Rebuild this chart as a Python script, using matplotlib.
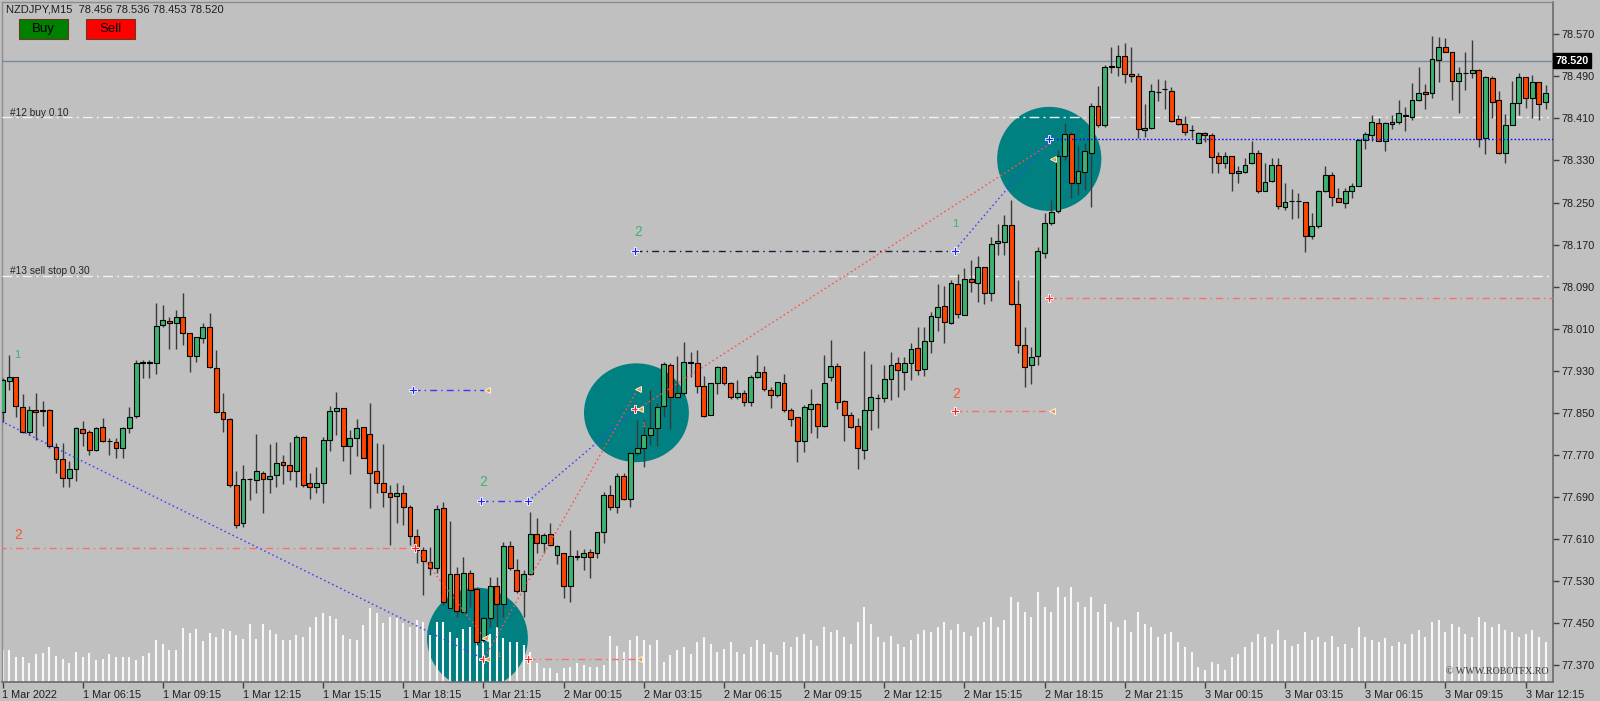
import matplotlib
matplotlib.use("Agg")
import matplotlib.pyplot as plt
from matplotlib.patches import Ellipse, Rectangle
from matplotlib.transforms import blended_transform_factory
import numpy as np

# ---------------- data ----------------
opens = [77.851,77.910,77.918,77.861,77.813,77.855,77.855,77.855,77.785,77.762,77.726,77.743,77.819,77.813,77.779,77.823,77.796,77.794,77.783,77.821,
         77.844,77.945,77.945,77.945,78.017,78.024,78.021,78.032,78.002,77.958,77.992,78.013,77.935,77.852,77.838,77.713,77.640,77.724,77.722,77.735,
         77.724,77.732,77.756,77.751,77.739,77.804,77.716,77.709,77.716,77.798,77.853,77.859,77.787,77.802,77.823,77.810,77.739,77.716,77.697,77.692,
         77.697,77.671,77.616,77.589,77.566,77.555,77.669,77.478,77.543,77.471,77.545,77.515,77.418,77.460,77.520,77.486,77.596,77.551,77.511,77.543,
         77.619,77.602,77.619,77.579,77.583,77.520,77.575,77.575,77.585,77.583,77.623,77.694,77.671,77.730,77.686,77.773,77.783,77.808,77.821,77.863,
         77.941,77.880,77.888,77.947,77.945,77.901,77.846,77.907,77.937,77.907,77.880,77.888,77.870,77.918,77.928,77.893,77.884,77.907,77.855,77.842,
         77.796,77.857,77.867,77.825,77.918,77.939,77.872,77.846,77.825,77.779,77.855,77.878,77.878,77.914,77.945,77.928,77.945,77.973,77.933,77.987,
         78.032,78.053,78.021,78.095,78.036,78.104,78.097,78.127,78.078,78.173,78.175,78.207,78.057,77.979,77.941,77.958,78.154,78.211,78.234,78.338,
         78.380,78.287,78.308,78.344,78.434,78.398,78.508,78.508,78.529,78.494,78.491,78.388,78.392,78.460,78.466,78.462,78.409,78.399,78.388,78.363,
         78.382,78.378,78.338,78.325,78.338,78.306,78.308,78.325,78.344,78.272,78.291,78.321,78.241,78.253,78.253,78.251,78.186,78.205,78.272,78.302,
         78.259,78.249,78.272,78.281,78.369,78.378,78.401,78.367,78.399,78.403,78.415,78.413,78.445,78.460,78.458,78.521,78.546,78.536,78.481,78.496,
         78.496,78.502,78.373,78.487,78.445,78.344,78.398,78.439,78.489,78.449,78.479,78.441]
highs = [77.916,77.960,77.918,77.886,77.863,77.888,77.872,77.857,77.793,77.793,77.758,77.823,77.834,77.817,77.823,77.840,77.802,77.802,77.823,77.861,
         77.950,77.950,77.950,78.059,78.055,78.032,78.045,78.078,78.002,77.994,78.021,78.040,77.969,77.888,77.840,77.739,77.751,77.725,77.810,77.739,
         77.791,77.794,77.770,77.794,77.808,77.806,77.735,77.747,77.804,77.863,77.890,77.859,77.817,77.838,77.823,77.869,77.793,77.791,77.713,77.716,
         77.713,77.674,77.629,77.595,77.595,77.674,77.680,77.644,77.557,77.576,77.551,77.518,77.461,77.537,77.537,77.604,77.606,77.572,77.551,77.661,
         77.650,77.621,77.640,77.598,77.583,77.627,77.589,77.591,77.591,77.623,77.699,77.713,77.735,77.735,77.773,77.836,77.836,77.893,77.869,77.947,
         77.945,77.958,77.985,77.966,77.969,77.920,77.907,77.939,77.939,77.909,77.912,77.893,77.922,77.960,77.939,77.899,77.909,77.924,77.859,77.842,
         77.865,77.895,77.869,77.960,77.988,77.945,77.874,77.852,77.840,77.968,77.943,77.886,77.941,77.966,77.956,77.956,77.983,78.013,78.013,78.042,
         78.095,78.091,78.103,78.114,78.125,78.141,78.148,78.127,78.184,78.209,78.226,78.255,78.103,78.013,77.975,78.165,78.230,78.255,78.350,78.401,
         78.384,78.357,78.363,78.439,78.472,78.512,78.546,78.550,78.553,78.546,78.496,78.438,78.475,78.485,78.483,78.470,78.416,78.415,78.397,78.384,
         78.384,78.382,78.346,78.346,78.338,78.319,78.335,78.367,78.350,78.325,78.335,78.335,78.287,78.276,78.268,78.251,78.230,78.274,78.319,78.308,
         78.278,78.278,78.287,78.371,78.384,78.416,78.411,78.403,78.416,78.445,78.432,78.477,78.508,78.475,78.567,78.565,78.563,78.536,78.508,78.536,
         78.559,78.504,78.491,78.491,78.462,78.418,78.481,78.496,78.489,78.493,78.479,78.474]
lows = [77.832,77.893,77.842,77.812,77.808,77.798,77.825,77.783,77.735,77.709,77.709,77.720,77.787,77.770,77.777,77.794,77.770,77.764,77.764,77.812,
        77.840,77.916,77.916,77.924,78.013,77.971,77.971,77.979,77.928,77.947,77.983,77.935,77.850,77.813,77.709,77.631,77.633,77.684,77.697,77.659,
        77.697,77.709,77.714,77.722,77.709,77.709,77.686,77.697,77.678,77.777,77.808,77.758,77.733,77.768,77.764,77.669,77.697,77.671,77.598,77.640,
        77.636,77.598,77.564,77.503,77.541,77.545,77.484,77.478,77.461,77.469,77.481,77.408,77.414,77.442,77.442,77.461,77.551,77.507,77.461,77.541,
        77.583,77.583,77.596,77.562,77.498,77.490,77.570,77.551,77.536,77.574,77.602,77.665,77.659,77.684,77.671,77.770,77.747,77.789,77.787,77.842,
        77.819,77.878,77.884,77.918,77.888,77.842,77.846,77.886,77.903,77.876,77.876,77.863,77.863,77.916,77.891,77.859,77.880,77.852,77.825,77.756,
        77.775,77.812,77.802,77.823,77.910,77.857,77.796,77.821,77.743,77.762,77.817,77.821,77.870,77.874,77.880,77.893,77.912,77.922,77.920,77.964,
        78.006,77.983,78.019,78.030,78.036,78.080,78.061,78.057,78.063,78.150,78.150,78.055,77.964,77.899,77.905,77.941,78.144,78.207,78.230,78.331,
        78.259,78.264,78.274,78.242,78.394,78.394,78.496,78.491,78.477,78.479,78.373,78.375,78.390,78.443,78.428,78.403,78.397,78.378,78.373,78.363,
        78.365,78.306,78.306,78.316,78.272,78.287,78.306,78.323,78.268,78.272,78.289,78.238,78.236,78.219,78.221,78.156,78.181,78.202,78.270,78.243,
        78.251,78.240,78.259,78.281,78.352,78.367,78.367,78.348,78.390,78.399,78.386,78.407,78.443,78.428,78.449,78.479,78.536,78.445,78.420,78.464,
        78.487,78.356,78.342,78.411,78.342,78.325,78.398,78.416,78.430,78.411,78.407,78.428]
closes = [77.912,77.918,77.863,77.813,77.855,77.852,77.854,77.787,77.762,77.726,77.743,77.821,77.812,77.779,77.821,77.796,77.796,77.783,77.821,77.842,
          77.945,77.945,77.945,78.015,78.026,78.021,78.032,78.002,77.958,77.994,78.013,77.937,77.852,77.838,77.713,77.636,77.724,77.724,77.739,77.724,
          77.730,77.754,77.751,77.739,77.804,77.713,77.709,77.716,77.798,77.853,77.859,77.787,77.802,77.821,77.764,77.735,77.716,77.699,77.690,77.697,
          77.671,77.616,77.589,77.568,77.555,77.667,77.490,77.543,77.473,77.545,77.513,77.414,77.460,77.520,77.486,77.596,77.555,77.511,77.543,77.619,
          77.602,77.617,77.598,77.596,77.520,77.577,77.577,77.583,77.575,77.623,77.694,77.671,77.730,77.686,77.773,77.783,77.808,77.821,77.861,77.943,
          77.880,77.888,77.947,77.945,77.901,77.844,77.907,77.937,77.907,77.880,77.888,77.870,77.918,77.928,77.895,77.884,77.909,77.855,77.838,77.796,
          77.861,77.867,77.825,77.907,77.939,77.870,77.846,77.823,77.783,77.855,77.880,77.878,77.914,77.941,77.931,77.945,77.971,77.931,77.987,78.034,
          78.051,78.023,78.097,78.038,78.104,78.099,78.127,78.078,78.171,78.177,78.207,78.057,77.979,77.937,77.956,78.158,78.211,78.232,78.338,78.380,
          78.287,78.310,78.348,78.434,78.398,78.508,78.508,78.529,78.494,78.491,78.390,78.392,78.462,78.460,78.466,78.405,78.399,78.384,78.388,78.382,
          78.378,78.337,78.325,78.338,78.306,78.310,78.321,78.344,78.272,78.289,78.321,78.243,78.251,78.253,78.253,78.186,78.205,78.272,78.302,78.260,
          78.251,78.272,78.281,78.369,78.380,78.403,78.367,78.401,78.403,78.420,78.415,78.445,78.458,78.456,78.523,78.546,78.536,78.481,78.496,78.496,
          78.502,78.371,78.489,78.441,78.344,78.398,78.439,78.489,78.449,78.479,78.437,78.458]
volumes = [320,320,250,250,190,280,290,350,260,230,190,300,250,290,220,230,280,250,250,250,
           220,260,290,420,380,320,320,540,490,530,410,490,450,530,510,470,430,580,430,580,
           520,480,420,420,470,450,550,650,690,660,630,470,430,420,570,740,690,590,650,640,
           590,550,620,600,470,600,600,500,440,530,550,550,500,480,550,440,400,400,370,300,
           190,140,140,90,140,150,190,170,150,150,170,460,360,300,420,460,420,370,420,200,
           270,320,350,280,400,450,380,300,330,400,300,280,350,420,380,300,270,400,350,450,
           480,420,360,550,500,520,450,380,600,750,580,450,400,460,380,350,420,480,520,500,
           550,600,520,580,500,460,550,600,650,550,620,850,800,700,650,900,750,700,950,850,
           950,800,750,850,700,780,600,550,620,500,700,580,550,450,480,500,400,350,300,150,
           120,200,180,120,250,280,350,400,480,450,380,520,420,360,380,500,420,450,400,460,
           350,380,340,550,450,420,400,440,360,400,380,480,520,450,600,620,500,580,550,480,
           450,650,600,550,580,520,500,450,480,520,450,400]

time_labels = ["1 Mar 2022", "1 Mar 06:15", "1 Mar 09:15", "1 Mar 12:15", "1 Mar 15:15",
               "1 Mar 18:15", "1 Mar 21:15", "2 Mar 00:15", "2 Mar 03:15", "2 Mar 06:15",
               "2 Mar 09:15", "2 Mar 12:15", "2 Mar 15:15", "2 Mar 18:15", "2 Mar 21:15",
               "3 Mar 00:15", "3 Mar 03:15", "3 Mar 06:15", "3 Mar 09:15", "3 Mar 12:15"]
time_tick_bars = list(range(0, 240, 12))
price_ticks = [78.570, 78.490, 78.410, 78.330, 78.250, 78.170, 78.090, 78.010,
               77.930, 77.850, 77.770, 77.690, 77.610, 77.530, 77.450, 77.370]
bid_price = 78.520
order_levels = [78.412, 78.111]
order_labels = ["#12 buy 0.10", "#13 sell stop 0.30"]

# highlight circles: (bar, price, width in bars, height in price)
circles = [(71.1, 77.421, 15.1, 0.192), (94.9, 77.850, 15.7, 0.188), (156.7, 78.333, 15.6, 0.198)]

# horizontal trade segments: (price, bar_from, bar_to)
seg_red = [(77.593, -1.0, 61.75), (77.853, 142.6, 157.1), (77.381, 78.7, 95.3), (78.069, 156.7, 240.0)]
seg_blue = [(77.893, 61.45, 72.5), (77.682, 71.6, 78.7)]
seg_navy = [(78.158, 94.7, 142.6)]
seg_blue_dotted = [(78.370, 156.7, 240.0)]
# diagonal trade connectors: (bar0, price0, bar1, price1)
diag_blue = [(-0.2, 77.834, 71.5, 77.385), (78.7, 77.682, 94.7, 77.855), (142.6, 78.160, 156.7, 78.370)]
diag_red = [(61.75, 77.593, 72.2, 77.421), (72.2, 77.385, 95.1, 77.895), (95.1, 77.857, 157.0, 78.363)]
# markers
mk_red = [(61.75, 77.593), (72.0, 77.381), (78.7, 77.381), (94.7, 77.857), (142.6, 77.853), (156.7, 78.069)]
mk_orange = [(72.6, 77.381), (72.2, 77.421), (95.3, 77.381), (72.5, 77.893), (95.1, 77.895),
             (95.4, 77.857), (157.1, 77.853), (157.3, 78.332)]
mk_blue = [(61.45, 77.893), (71.6, 77.682), (78.7, 77.682), (94.7, 78.158), (142.6, 78.158), (156.7, 78.370)]
# counters: (bar, price, text, color, size)
counters = [(2.3, 77.617, "2", "#f25a3c", 10), (142.7, 77.886, "2", "#f25a3c", 10),
            (95.1, 78.194, "2", "#3cb371", 10), (71.9, 77.718, "2", "#3cb371", 10),
            (2.2, 77.960, "1", "#3cb371", 8), (142.6, 78.209, "1", "#3cb371", 8),
            (64.0, 77.560, "1", "#ff5a3c", 5.5), (95.9, 77.825, "1", "#e08030", 5.5),
            (74.3, 77.389, "1", "#e08030", 5.5)]

# ---------------- layout ----------------
W, H = 1600, 701
BG = "#c0c0c0"
PX_L, PX_R, PX_T, PX_B = 2, 1553, 2, 682
BAR_PX, FIRST_PX = 6.68, 2.5
P_TOP, P_BOT = 78.6315, 77.3377
VOL_SCALE = 6800.0

plt.rcParams['font.family'] = ['Liberation Sans', 'DejaVu Sans']

fig = plt.figure(figsize=(W / 100, H / 100), dpi=100, facecolor=BG)
ax = fig.add_axes([PX_L / W, 1 - PX_B / H, (PX_R - PX_L) / W, (PX_B - PX_T) / H], facecolor=BG)
ax.set_xlim((PX_L - FIRST_PX) / BAR_PX, (PX_R - FIRST_PX) / BAR_PX)
ax.set_ylim(P_BOT, P_TOP)

idx = np.arange(len(opens))
o = np.array(opens); h = np.array(highs); l = np.array(lows); c = np.array(closes)
up = c >= o

# circles
for (bx, py, bw, ph) in circles:
    ax.add_patch(Ellipse((bx, py), bw, ph, facecolor="#008080", edgecolor="none", zorder=1))

# volumes
ax.vlines(idx, 0, np.array(volumes) / VOL_SCALE, transform=ax.get_xaxis_transform(),
          colors="#f8f8f8", linewidth=1.5, zorder=2)

# order lines and bid line
ax.axhline(bid_price, color="#7d8b99", lw=1.0, zorder=3)
for lvl, lab in zip(order_levels, order_labels):
    ax.axhline(lvl, color="#f2f2f2", lw=1.0, linestyle=(0, (7, 3, 1.5, 3)), zorder=3)
    ax.text(1.1, lvl - 0.001, lab, fontsize=7.3, color="#262626", va="bottom", ha="left", zorder=7)

# candles
ax.vlines(idx, l, h, colors="#3a3a3a", linewidth=1.0, zorder=4)
body_bot = np.minimum(o, c)
body_h = np.maximum(np.abs(c - o), 0.0008)
ax.bar(idx[up], body_h[up], bottom=body_bot[up], width=0.72, color="#3cb371",
       edgecolor="black", linewidth=0.8, zorder=5)
ax.bar(idx[~up], body_h[~up], bottom=body_bot[~up], width=0.72, color="#ff4500",
       edgecolor="black", linewidth=0.8, zorder=5)

# trade segments
for p, a, b in seg_red:
    ax.hlines(p, a, b, colors="#ff6a6a", lw=1.0, linestyle=(0, (5, 3, 1, 3)), zorder=6)
for p, a, b in seg_blue:
    ax.hlines(p, a, b, colors="#3a3aff", lw=1.0, linestyle=(0, (5, 3, 1, 3)), zorder=6)
for p, a, b in seg_navy:
    ax.hlines(p, a, b, colors="#1a1a40", lw=1.0, linestyle=(0, (5, 3, 1, 3)), zorder=6)
for p, a, b in seg_blue_dotted:
    ax.hlines(p, a, b, colors="#1010ff", lw=1.0, linestyle=(0, (1.2, 1.5)), zorder=6)
for (x0, y0, x1, y1) in diag_blue:
    ax.plot([x0, x1], [y0, y1], color="#4040ff", lw=1.0, linestyle=(0, (1.2, 2)), zorder=6)
for (x0, y0, x1, y1) in diag_red:
    ax.plot([x0, x1], [y0, y1], color="#ff5050", lw=1.0, linestyle=(0, (1.2, 2)), zorder=6)

mx, my = zip(*mk_red)
ax.plot(mx, my, linestyle="none", marker="P", ms=6, mfc="#ff2020", mec="white", mew=0.6, zorder=8)
mx, my = zip(*mk_orange)
ax.plot(mx, my, linestyle="none", marker="<", ms=5, mfc="#e8a040", mec="white", mew=0.6, zorder=8)
mx, my = zip(*mk_blue)
ax.plot(mx, my, linestyle="none", marker="P", ms=6, mfc="#2020ff", mec="white", mew=0.6, zorder=8)

for (bx, py, t, col, fs) in counters:
    ax.text(bx, py, t, color=col, fontsize=fs, ha="center", va="center", zorder=8)

# axes styling
ax.yaxis.tick_right()
ax.set_yticks(price_ticks)
ax.set_yticklabels([f"{v:.3f}" for v in price_ticks])
ax.set_xticks(time_tick_bars)
ax.set_xticklabels(time_labels)
for t in ax.get_xticklabels():
    t.set_horizontalalignment("left")
ax.tick_params(axis="y", direction="out", length=4, width=1, pad=2, labelsize=7.8,
               color="#404040", labelcolor="#1e1e1e")
ax.tick_params(axis="x", direction="out", length=4, width=1, pad=1.5, labelsize=7.8,
               color="#404040", labelcolor="#1e1e1e")
for side in ["right", "bottom"]:
    ax.spines[side].set_color("#6a6a6a"); ax.spines[side].set_linewidth(1.2)
for side in ["left", "top"]:
    ax.spines[side].set_color("#8c8c8c"); ax.spines[side].set_linewidth(1.0)

# bid price label
tr = blended_transform_factory(ax.transAxes, ax.transData)
ax.text(1.0017, bid_price, f"{bid_price:.3f}", transform=tr, fontsize=7.8, color="white",
        fontweight="bold", va="center", ha="left", clip_on=False, zorder=9,
        bbox=dict(facecolor="black", edgecolor="black", boxstyle="square,pad=0.22"))

# header texts and buttons
fig.text(6 / W, 1 - 10 / H, "NZDJPY,M15  78.456 78.536 78.453 78.520", fontsize=8,
         color="#1e1e1e", va="center", ha="left")
for (x0, label, col) in [(19, "Buy", "#008000"), (86, "Sell", "#ff0000")]:
    fig.add_artist(Rectangle((x0 / W, 1 - 39 / H), 49 / W, 20 / H, transform=fig.transFigure,
                             facecolor=col, edgecolor="#6a3a20", linewidth=0.8))
    fig.text((x0 + 24.5) / W, 1 - 29 / H, label, fontsize=9.5, color="black",
             ha="center", va="center")

fig.text(1548 / W, 1 - 672 / H, "© WWW.ROBOTFX.RO", fontsize=7.2, color="#3a3a3a",
         ha="right", va="center", family=["Liberation Serif", "DejaVu Serif"])

fig.savefig("out.png", dpi=100, facecolor=BG)
